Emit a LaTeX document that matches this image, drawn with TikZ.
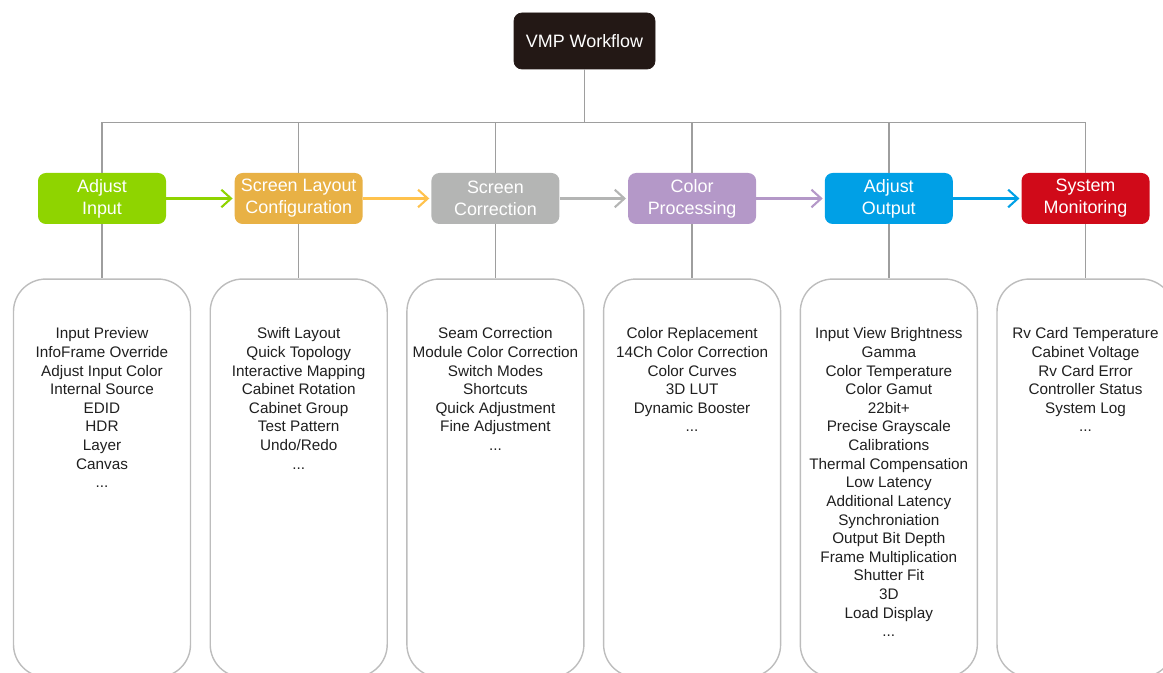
\documentclass[tikz,border=0pt]{standalone}
\usepackage{fontspec}
\setmainfont{Liberation Sans}
\usetikzlibrary{arrows.meta, positioning}
\definecolor{rootfill}{HTML}{231815}
\definecolor{inputgreen}{HTML}{8FD400}
\definecolor{layoutorange}{HTML}{E8B145}
\definecolor{orangeline}{HTML}{FFC24D}
\definecolor{correctgray}{HTML}{B4B5B4}
\definecolor{colorpurple}{HTML}{B498C8}
\definecolor{outputblue}{HTML}{00A0E6}
\definecolor{monitorred}{HTML}{D00A19}
\definecolor{linegray}{HTML}{9E9E9E}
\definecolor{boxgray}{HTML}{BDBDBD}
\tikzset{
  rootbox/.style={rectangle, rounded corners=4.5pt, minimum width=2.82cm, minimum height=1.12cm, text centered, draw=rootfill, fill=rootfill, text=white, font=\fontsize{10.2}{12.5}\selectfont},
  stepbox/.style={rectangle, rounded corners=4.5pt, minimum width=2.56cm, minimum height=1.02cm, inner sep=0pt, align=center, text=white, font=\fontsize{10.2}{12.5}\selectfont},
  listbox/.style={rectangle, rounded corners=0.65cm, minimum width=3.54cm, minimum height=7.96cm, draw=boxgray, line width=0.8pt},
  listtext/.style={align=center, inner sep=0pt, text=black!88, font=\fontsize{8.7}{10.6}\selectfont},
  tree/.style={draw=linegray, line width=0.8pt},
  arrow/.style={line width=1.2pt, -{Straight Barb[length=5.5pt, width=10pt]}, shorten >=1pt}
}
\begin{document}
\begin{tikzpicture}[node distance=1.36cm]

  \useasboundingbox (0,0) rectangle (23.26,-13.46);
  \clip (0,0) rectangle (23.26,-13.46);

  \node (vmp) [rootbox] at (11.69,-0.82) {VMP Workflow};

  \node (input) [stepbox, fill=inputgreen] at (2.04,-3.97) {Adjust\\Input};
  \node (layout) [stepbox, fill=layoutorange, right=of input] {Screen Layout\\Configuration};
  \node (correct) [stepbox, fill=correctgray, right=of layout] {Screen\\Correction};
  \node (color) [stepbox, fill=colorpurple, right=of correct] {Color\\Processing};
  \node (output) [stepbox, fill=outputblue, right=of color] {Adjust\\Output};
  \node (monitor) [stepbox, fill=monitorred, right=of output] {System\\Monitoring};

  % item lists
  \foreach \n in {input,layout,correct,color,output,monitor}
    \node (\n-box) [listbox, below=1.08cm of \n] {};

  \node (input-list) [listtext, below=0.98cm of input-box.north] {Input Preview\\InfoFrame Override\\Adjust Input Color\\Internal Source\\EDID\\HDR\\Layer\\Canvas\\...};
  \node (layout-list) [listtext, below=0.98cm of layout-box.north] {Swift Layout\\Quick Topology\\Interactive Mapping\\Cabinet Rotation\\Cabinet Group\\Test Pattern\\Undo/Redo\\...};
  \node (correct-list) [listtext, below=0.98cm of correct-box.north] {Seam Correction\\Module Color Correction\\Switch Modes\\Shortcuts\\Quick Adjustment\\Fine Adjustment\\...};
  \node (color-list) [listtext, below=0.98cm of color-box.north] {Color Replacement\\14Ch Color Correction\\Color Curves\\3D LUT\\Dynamic Booster\\...};
  \node (output-list) [listtext, below=0.98cm of output-box.north] {Input View Brightness\\Gamma\\Color Temperature\\Color Gamut\\22bit+\\Precise Grayscale\\Calibrations\\Thermal Compensation\\Low Latency\\Additional Latency\\Synchroniation\\Output Bit Depth\\Frame Multiplication\\Shutter Fit\\3D\\Load Display\\...};
  \node (monitor-list) [listtext, below=0.98cm of monitor-box.north] {Rv Card Temperature\\Cabinet Voltage\\Rv Card Error\\Controller Status\\System Log\\...};

  % tree lines
  \draw [tree] (vmp.south) -- ++(0,-1.06) coordinate (bus);
  \foreach \n in {input,layout,correct,color,output,monitor} {
    \draw [tree] (\n.north) |- (bus);
    \draw [tree] (\n.south) -- (\n-box.north);
  }

  \draw [arrow, inputgreen] (input) -- (layout);
  \draw [arrow, orangeline] (layout) -- (correct);
  \draw [arrow, correctgray] (correct) -- (color);
  \draw [arrow, colorpurple] (color) -- (output);
  \draw [arrow, outputblue] (output) -- (monitor);

\end{tikzpicture}
\end{document}
